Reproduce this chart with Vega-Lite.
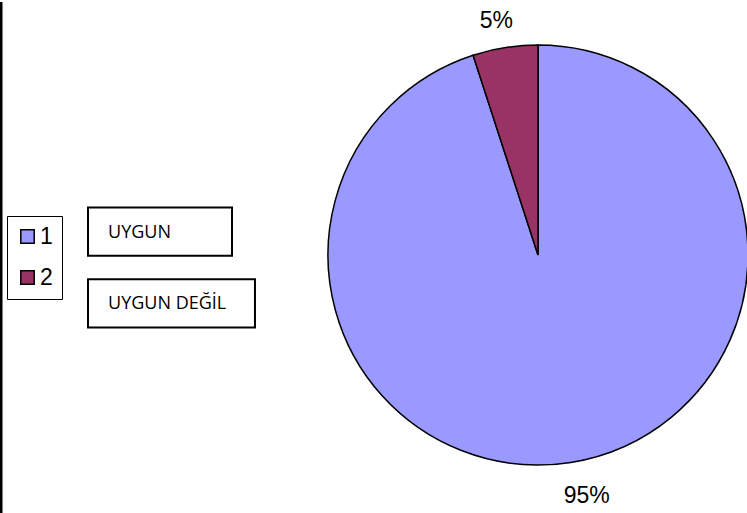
{
  "$schema": "https://vega.github.io/schema/vega-lite/v6.json",
  "padding": 0,
  "autosize": {"type": "pad"},
  "background": "white",
  "config": {"view": {"stroke": null}, "font": "Liberation Sans"},
  "data": {"values": [
    {"cat": "1", "label": "UYGUN", "value": 95, "pct": "95%"},
    {"cat": "2", "label": "UYGUN DEĞİL", "value": 5, "pct": "5%"}
  ]},
  "spacing": 68.5,
  "hconcat": [
    {
      "width": 256,
      "height": 513,
      "layer": [
        {
          "data": {"values": [{"edge": "left"}]},
          "mark": {"type": "rule", "color": "black", "strokeWidth": 2.5},
          "encoding": {
            "x": {"datum": 0.0049, "type": "quantitative", "scale": {"domain": [0, 1], "nice": false, "zero": false}, "axis": null}
          }
        },
        {
          "transform": [{"filter": "datum.cat == '1'"}],
          "mark": {"type": "rect", "fill": "white", "stroke": "black", "strokeWidth": 2},
          "encoding": {
            "x": {"datum": 0.3438, "type": "quantitative", "scale": {"domain": [0, 1], "nice": false, "zero": false}, "axis": null},
            "x2": {"datum": 0.9063},
            "y": {"field": "label", "type": "nominal", "scale": {"domain": ["UYGUN", "UYGUN DEĞİL"], "range": [205.5, 325.5], "paddingInner": 0.326, "paddingOuter": 0}, "axis": null}
          }
        },
        {
          "transform": [{"filter": "datum.cat == '2'"}],
          "mark": {"type": "rect", "fill": "white", "stroke": "black", "strokeWidth": 2},
          "encoding": {
            "x": {"datum": 0.3438, "type": "quantitative", "scale": {"domain": [0, 1], "nice": false, "zero": false}, "axis": null},
            "x2": {"datum": 0.996},
            "y": {"field": "label", "type": "nominal", "scale": {"domain": ["UYGUN", "UYGUN DEĞİL"], "range": [205.5, 325.5], "paddingInner": 0.326, "paddingOuter": 0}, "axis": null}
          }
        },
        {
          "mark": {"type": "text", "align": "left", "baseline": "middle", "font": "Open Sans", "fontSize": 18, "dx": 20, "dy": 1, "color": "black"},
          "encoding": {
            "x": {"datum": 0.3438, "type": "quantitative", "scale": {"domain": [0, 1], "nice": false, "zero": false}, "axis": null},
            "y": {"field": "label", "type": "nominal", "scale": {"domain": ["UYGUN", "UYGUN DEĞİL"], "range": [205.5, 325.5], "paddingInner": 0.326, "paddingOuter": 0}, "axis": null},
            "text": {"field": "label"}
          }
        }
      ]
    },
    {
      "width": 421,
      "height": 506,
      "encoding": {
        "theta": {"field": "value", "type": "quantitative", "stack": true},
        "order": {"field": "cat", "type": "nominal", "sort": "ascending"}
      },
      "layer": [
        {
          "mark": {"type": "arc", "outerRadius": 210, "stroke": "black", "strokeWidth": 1.5},
          "encoding": {
            "color": {
              "field": "cat", "type": "nominal",
              "scale": {"domain": ["1", "2"], "range": ["#9999FF", "#993366"]},
              "legend": {
                "orient": "none", "legendX": 7, "legendY": 214, "title": null,
                "symbolType": "square", "symbolSize": 180, "symbolStrokeColor": "black", "symbolStrokeWidth": 1.5,
                "labelFontSize": 23, "labelFont": "Liberation Sans", "labelColor": "black",
                "strokeColor": "black", "padding": 9, "rowPadding": 17, "labelOffset": 1
              }
            }
          }
        },
        {
          "mark": {"type": "text", "radius": 241, "fontSize": 23, "font": "Liberation Sans", "color": "black",
                   "dx": {"expr": "datum.cat == '1' ? 11 : -4"}, "dy": {"expr": "datum.cat == '1' ? 3 : 4"}},
          "encoding": {
            "detail": {"field": "cat", "type": "nominal"},
            "text": {"field": "pct"}
          }
        }
      ]
    }
  ]
}
